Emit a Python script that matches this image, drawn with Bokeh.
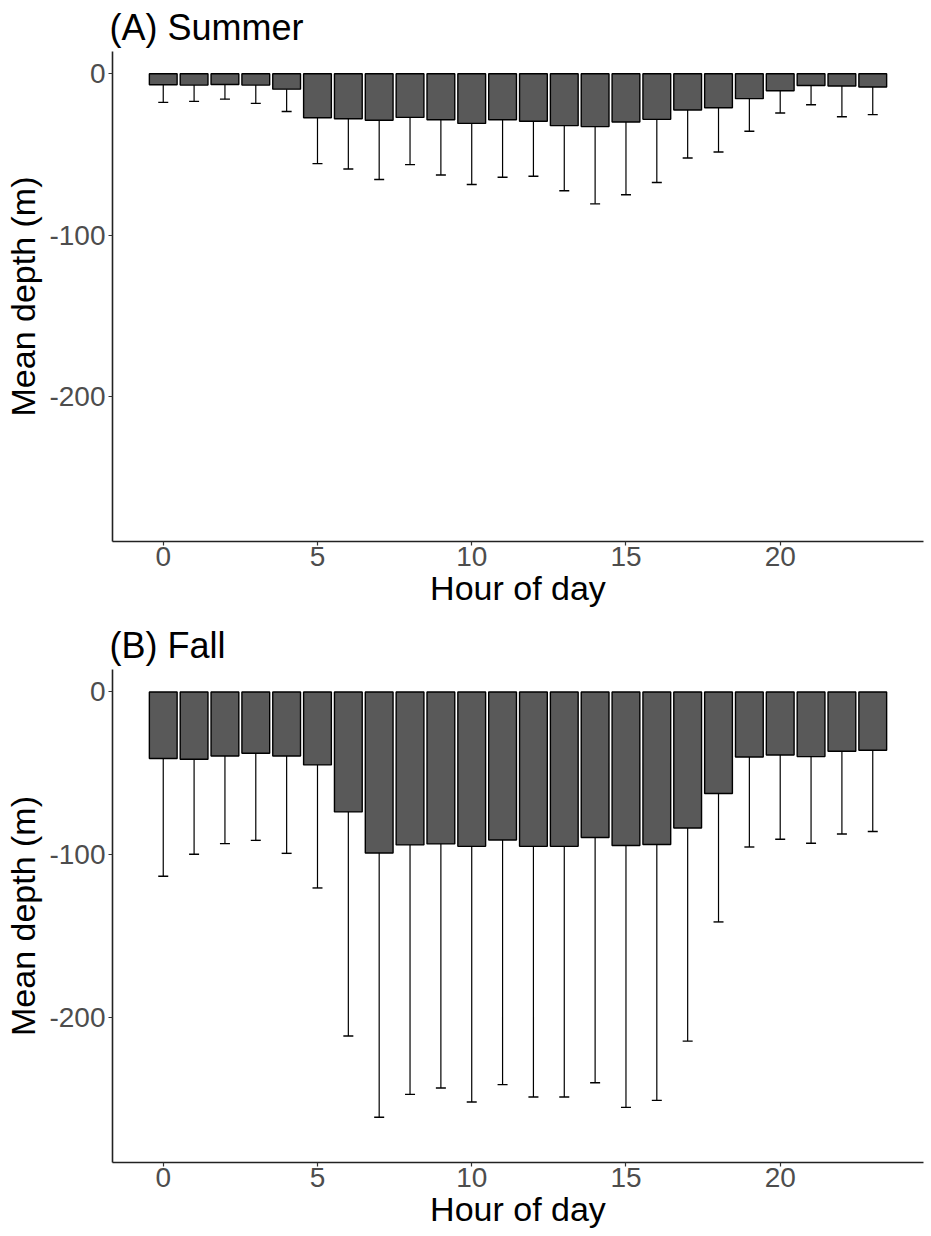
from bokeh.plotting import figure
from bokeh.models import ColumnDataSource, Range1d, Whisker, TeeHead, FixedTicker, PrintfTickFormatter
from bokeh.layouts import column
from bokeh.embed import file_html
from bokeh.resources import INLINE

hours = list(range(24))
x_ticks = [0, 5, 10, 15, 20]
y_ticks = [0, -100, -200]

summer_mean = [-6.8, -7.0, -6.6, -7.0, -9.5, -27.2, -27.8, -28.8, -27.0, -28.4, -30.7, -28.4,
               -29.4, -32.1, -32.7, -29.8, -28.2, -22.4, -21.0, -15.4, -10.5, -7.2, -7.6, -8.2]
summer_lower = [-17.7, -17.1, -15.7, -18.3, -23.3, -55.6, -58.9, -65.4, -56.2, -62.6, -68.5, -64.0,
                -63.4, -72.4, -80.5, -74.9, -67.3, -52.1, -48.4, -35.6, -24.3, -19.2, -26.6, -25.3]

fall_mean = [-41.0, -41.4, -39.4, -37.7, -39.4, -44.9, -73.8, -99.1, -94.1, -93.5, -95.0, -91.1,
             -95.0, -95.0, -89.6, -94.5, -93.9, -83.7, -62.5, -40.0, -38.8, -39.8, -36.5, -35.9]
fall_lower = [-113.4, -99.9, -93.3, -91.3, -99.3, -120.6, -211.7, -261.7, -247.6, -243.7, -252.3, -241.6,
              -249.2, -249.2, -240.4, -255.6, -251.3, -214.8, -141.5, -95.4, -90.6, -93.1, -87.4, -85.9]

FONT = "Liberation Sans"


def make_panel(title, means, lowers, bottom_border):
    src = ColumnDataSource(dict(x=hours, mean=means, lower=lowers, zero=[0] * len(hours)))
    p = figure(width=931, height=618, output_backend="svg", toolbar_location=None,
               x_range=Range1d(-1.645, 24.645), y_range=Range1d(-289.5, 13.8),
               min_border_left=112, min_border_right=8, min_border_top=10,
               min_border_bottom=bottom_border)
    p.title.text = title
    p.title.text_font = FONT
    p.title.text_font_size = "36px"
    p.title.text_font_style = "normal"
    p.title.text_color = "black"
    p.title.align = "left"
    p.title.offset = -3
    p.title.standoff = 8

    whisk = Whisker(source=src, base="x", upper="mean", lower="lower",
                    dimension="height", upper_head=None,
                    lower_head=TeeHead(size=10, line_color="black", line_width=1.4),
                    line_color="black", line_width=1.2)
    p.add_layout(whisk)
    p.vbar(x="x", width=0.9, top="zero", bottom="mean", source=src,
           fill_color="#595959", line_color="black", line_width=1.4)

    p.xgrid.visible = False
    p.ygrid.visible = False
    p.outline_line_color = None
    p.background_fill_color = "white"

    p.xaxis.ticker = FixedTicker(ticks=x_ticks)
    p.yaxis.ticker = FixedTicker(ticks=y_ticks)
    p.xaxis.formatter = PrintfTickFormatter(format="%d")
    p.yaxis.formatter = PrintfTickFormatter(format="%d")
    p.xaxis.axis_label = "Hour of day"
    p.yaxis.axis_label = "Mean depth (m)"
    for ax in (p.xaxis, p.yaxis):
        ax.axis_label_text_font = FONT
        ax.axis_label_text_font_size = "34px"
        ax.axis_label_text_font_style = "normal"
        ax.axis_label_text_color = "black"
        ax.major_label_text_font = FONT
        ax.major_label_text_font_size = "28px"
        ax.major_label_text_color = "#4D4D4D"
        ax.axis_line_color = "#222222"
        ax.axis_line_width = 1.6
        ax.major_tick_line_color = "#333333"
        ax.major_tick_line_width = 1.2
        ax.major_tick_in = 0
        ax.major_tick_out = 4
        ax.minor_tick_line_color = None
    p.xaxis.major_label_standoff = 1
    p.xaxis.axis_label_standoff = 0
    p.yaxis.major_label_standoff = 3
    p.yaxis.axis_label_standoff = 4
    return p


pA = make_panel("(A) Summer", summer_mean, summer_lower, 77)
pB = make_panel("(B) Fall", fall_mean, fall_lower, 74)

layout = column(pA, pB)
open("out.html", "w").write(file_html(layout, INLINE))
